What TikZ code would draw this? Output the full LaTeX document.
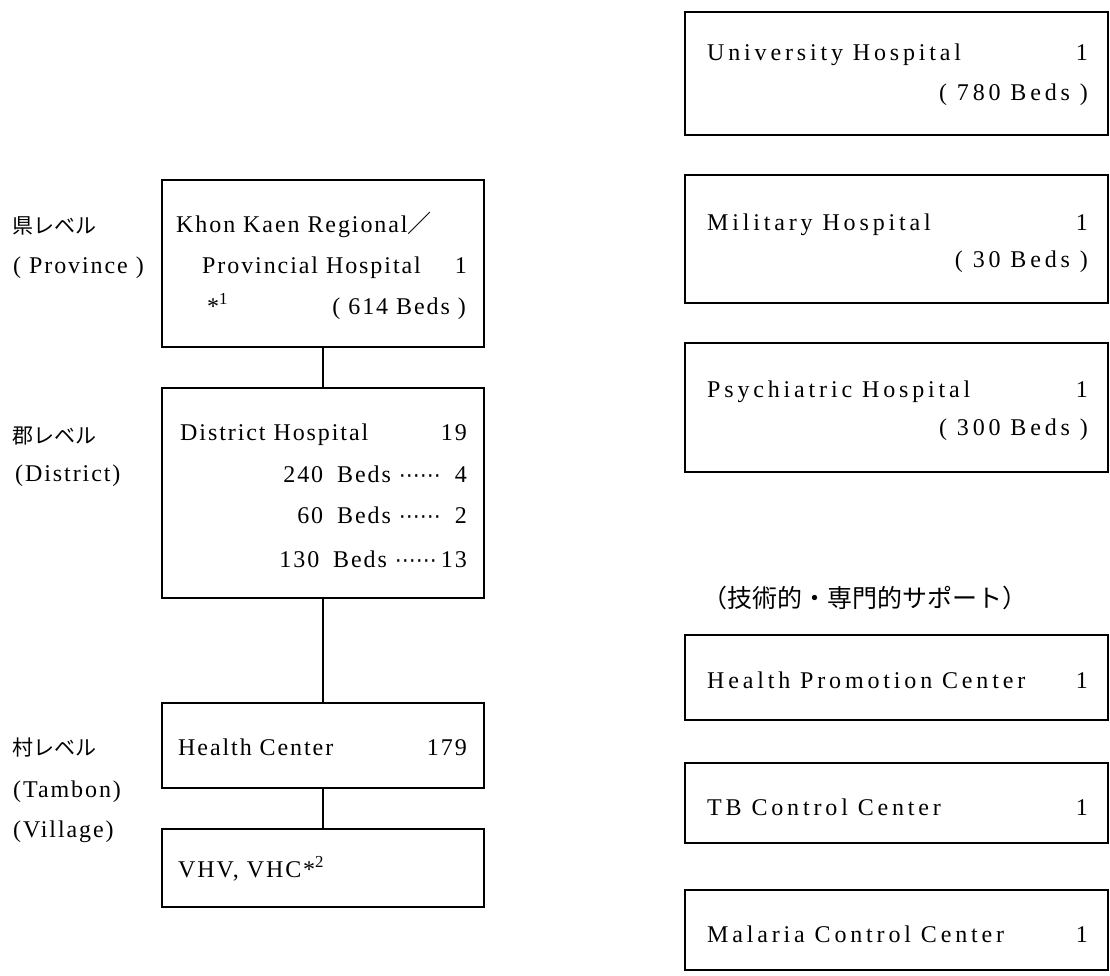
\documentclass[tikz,border=0pt]{standalone}
\usepackage{fontspec}
\setmainfont{Liberation Serif}[LetterSpace=8]
\newfontfamily\wide{Liberation Serif}[LetterSpace=16]
\newfontfamily\cjk{Noto Sans CJK JP}
\newfontfamily\dv{DejaVu Sans}
\newcommand{\dts}{{\dv\fontsize{21}{24}\selectfont ⋯⋯}}
\begin{document}
\begin{tikzpicture}[x=1pt,y=-1pt,
  box/.style={draw,line width=1.3pt,inner sep=0pt},
  lbox/.style={box,minimum width=322pt},
  rbox/.style={box,minimum width=423pt},
  tx/.style={inner sep=0pt,anchor=base west,font=\fontsize{24}{26}\selectfont},
  tr/.style={inner sep=0pt,anchor=base east,font=\fontsize{24}{26}\selectfont},
  rx/.style={inner sep=0pt,anchor=base west,font=\wide\fontsize{24}{26}\selectfont},
  rr/.style={inner sep=0pt,anchor=base east,font=\wide\fontsize{24}{26}\selectfont},
  jp/.style={inner sep=0pt,anchor=base west,font=\cjk\fontsize{21}{24}\selectfont},
  conn/.style={line width=1.3pt}]
\useasboundingbox (0,0) rectangle (1110,975);
% left boxes
\node[lbox,minimum height=167pt] (kk) at (323,263.5) {};
\node[lbox,minimum height=210pt] (dh) at (323,493) {};
\node[lbox,minimum height=85pt] (hc) at (323,745.5) {};
\node[lbox,minimum height=78pt] (vh) at (323,868) {};
\draw[conn] (kk.south) -- (dh.north);
\draw[conn] (dh.south) -- (hc.north);
\draw[conn] (hc.south) -- (vh.north);
% right boxes
\node[rbox,minimum height=123pt] (uh) at (896.5,73.5) {};
\node[rbox,minimum height=128pt] (mh) at (896.5,239) {};
\node[rbox,minimum height=129pt] (ph) at (896.5,407.5) {};
\node[rbox,minimum height=85pt] (hp) at (896.5,677.5) {};
\node[rbox,minimum height=80pt] (tb) at (896.5,803) {};
\node[rbox,minimum height=80pt] (mc) at (896.5,930) {};
% left labels
\node[jp] (l1) at (12,233) {県レベル};
\node[tx] (l1e) at (13,273) {( Province )};
\node[jp] (l2) at (12,443) {郡レベル};
\node[tx] (l2e) at (15,481) {(District)};
\node[jp] (l3) at (12,755) {村レベル};
\node[tx] (l3e) at (13,797) {(Tambon)};
\node[tx] (l3f) at (13,837) {(Village)};
% Khon Kaen box text
\node[tx] (k1) at (176,232) {Khon Kaen Regional{\cjk ／}};
\node[tx] (k2) at (202,273) {Provincial Hospital};
\node[tr] (k2n) at (467,273) {1};
\node[tx] (k3) at (207,314) {*\textsuperscript{1}};
\node[tr] (k3b) at (466,314) {( 614 Beds )};
% District
\node[tx] (d1) at (180,440) {District Hospital};
\node[tr] (d1n) at (467,440) {19};
\node[tr] (d2) at (467,482) {240\hspace{6pt} Beds \dts\hspace{14pt}4};
\node[tr] (d3) at (467,523) {60\hspace{6pt} Beds \dts\hspace{14pt}2};
\node[tr] (d4) at (467,567) {130\hspace{6pt} Beds \dts\,13};
% Health center
\node[tx] (h1) at (178,755) {Health Center};
\node[tr] (h1n) at (467,755) {179};
\node[tx] (v1) at (178,877) {VHV, VHC*\textsuperscript{2}};
% right texts
\node[rx] (u1) at (707,60) {University Hospital};
\node[rr] (u1n) at (1088,60) {1};
\node[rr] (u2) at (1088,100) {( 780 Beds )};
\node[rx] (m1) at (707,230) {Military Hospital};
\node[rr] (m1n) at (1088,230) {1};
\node[rr] (m2) at (1088,267) {( 30 Beds )};
\node[rx] (p1) at (707,397) {Psychiatric Hospital};
\node[rr] (p1n) at (1088,397) {1};
\node[rr] (p2) at (1088,435) {( 300 Beds )};
\node[jp,font=\cjk\fontsize{25}{28}\selectfont] (sup) at (702,607) {（技術的・専門的サポート）};
\node[rx] (hp1) at (707,688) {Health Promotion Center};
\node[rr] (hp1n) at (1088,688) {1};
\node[rx] (tb1) at (707,815) {TB Control Center};
\node[rr] (tb1n) at (1088,815) {1};
\node[rx] (mc1) at (707,942) {Malaria Control Center};
\node[rr] (mc1n) at (1088,942) {1};
\end{tikzpicture}
\end{document}
